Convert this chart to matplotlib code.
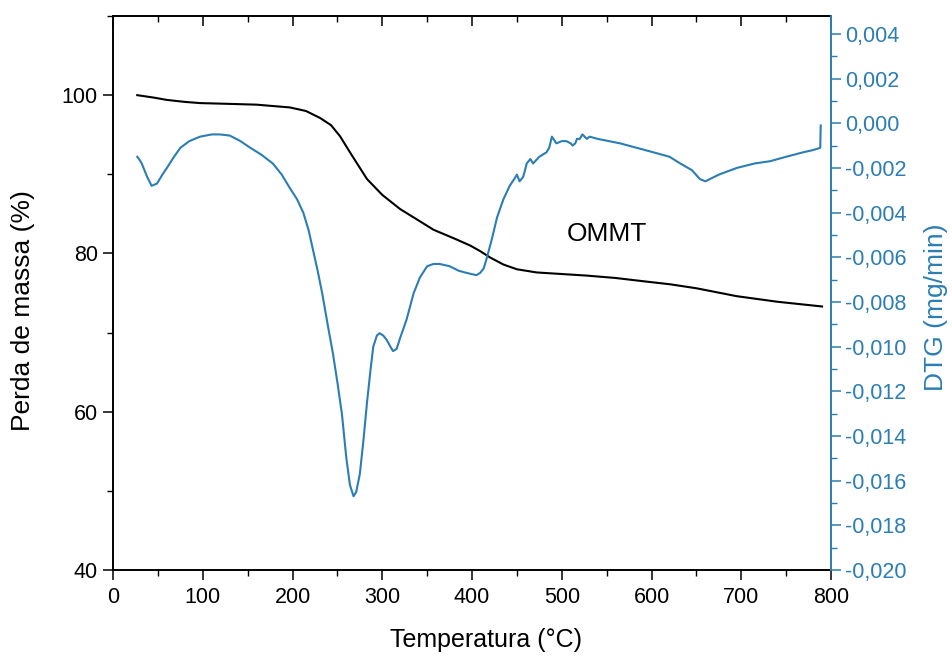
#!/usr/bin/env python3
"""TGA / DTG curves of OMMT: mass loss (left) and DTG (right) versus temperature."""

import matplotlib.pyplot as plt
from matplotlib.ticker import MultipleLocator, FuncFormatter

plt.rcParams["font.family"] = ["Liberation Sans", "DejaVu Sans"]

BLUE = "#2b7db3"

# TGA curve (black)
tga_temp = [27, 45, 60, 80, 97, 130, 160, 197, 215, 231, 243, 253, 265, 283,
            300, 320, 340, 357, 380, 398, 409, 420, 435, 450, 472, 500, 528,
            560, 590, 621, 650, 695, 740, 790]
tga_mass = [100.0, 99.7, 99.4, 99.15, 99.0, 98.9, 98.8, 98.45, 98.0, 97.1, 96.2,
            94.8, 92.6, 89.4, 87.4, 85.6, 84.2, 83.0, 81.9, 81.0, 80.3, 79.5,
            78.6, 78.0, 77.6, 77.4, 77.2, 76.9, 76.5, 76.1, 75.6, 74.6, 73.9,
            73.3]

# DTG curve (blue)
dtg_temp = [27, 29, 32, 35, 38, 43, 49, 55, 60, 68, 75, 85, 97, 110, 119, 130,
            142, 153, 165, 178, 188, 197, 205, 212, 218, 223, 228, 233, 240,
            245, 250, 255, 260, 264, 268, 271, 275, 279, 283, 287, 290, 294,
            297, 301, 305, 309, 312, 316, 320, 327, 335, 342, 350, 357, 364,
            375, 385, 394, 405, 409, 413, 416, 422, 428, 435, 442, 447, 450,
            453, 457, 461, 465, 468, 475, 483, 486, 489, 494, 500, 505, 510,
            512, 515, 517, 520, 523, 528, 531, 540, 565, 602, 620, 632, 645,
            654, 660, 665, 675, 695, 715, 732, 750, 769, 780, 788, 788.5]
dtg_val = [-0.0015, -0.0016, -0.0018, -0.0021, -0.0024, -0.0028, -0.0027,
           -0.0023, -0.0020, -0.0015, -0.0011, -0.0008, -0.0006, -0.0005,
           -0.0005, -0.00055, -0.0008, -0.0011, -0.0014, -0.0018, -0.0023,
           -0.0029, -0.0034, -0.0040, -0.0048, -0.0057, -0.0066, -0.0076,
           -0.0092, -0.0103, -0.0116, -0.0130, -0.0150, -0.0162, -0.0167,
           -0.0165, -0.0157, -0.0142, -0.0125, -0.0110, -0.0100, -0.0095,
           -0.0094, -0.0095, -0.0097, -0.0100, -0.0102, -0.0101, -0.0096,
           -0.0088, -0.0076, -0.0069, -0.0064, -0.0063, -0.0063, -0.0064,
           -0.0066, -0.0067, -0.0068, -0.0067, -0.0065, -0.0061, -0.0052,
           -0.0042, -0.0034, -0.0028, -0.0025, -0.0023, -0.0026, -0.0024,
           -0.0018, -0.0016, -0.0018, -0.0015, -0.0013, -0.0011, -0.0006,
           -0.0009, -0.0008, -0.0008, -0.0009, -0.0010, -0.0009, -0.0007,
           -0.0007, -0.0005, -0.0007, -0.0006, -0.0007, -0.0009, -0.0013,
           -0.0015, -0.0018, -0.0021, -0.0025, -0.0026, -0.0025, -0.0023,
           -0.0020, -0.0018, -0.0017, -0.0015, -0.0013, -0.0012, -0.0011,
           -0.0001]

X_TICKS = list(range(0, 900, 100))
LEFT_TICKS = [40, 60, 80, 100]
RIGHT_TICKS = [-0.020, -0.018, -0.016, -0.014, -0.012, -0.010, -0.008,
               -0.006, -0.004, -0.002, 0.000, 0.002, 0.004]


def comma_fmt(v, _):
    return f"{v:.3f}".replace(".", ",").replace("-0,000", "0,000")


def main() -> None:
    fig = plt.figure(figsize=(9.53, 6.57), dpi=100)
    ax = fig.add_axes([0.1186, 0.1324, 0.7534, 0.8432])
    ax2 = ax.twinx()

    ax.plot(tga_temp, tga_mass, color="black", linewidth=1.5)
    ax2.plot(dtg_temp, dtg_val, color=BLUE, linewidth=1.5)

    ax.set_xlim(0, 800)
    ax.set_ylim(40, 110)
    ax2.set_ylim(-0.020, 0.0048)

    ax.set_xticks(X_TICKS)
    ax.xaxis.set_minor_locator(MultipleLocator(50))
    ax.set_yticks(LEFT_TICKS)
    ax.yaxis.set_minor_locator(MultipleLocator(10))
    ax2.set_yticks(RIGHT_TICKS)
    ax2.yaxis.set_minor_locator(MultipleLocator(0.001))
    ax2.yaxis.set_major_formatter(FuncFormatter(comma_fmt))

    ax.tick_params(axis="both", which="major", labelsize=15.5, length=7, width=1.1, direction="out")
    ax.tick_params(axis="both", which="minor", length=4, width=1.0, direction="out")
    ax.tick_params(axis="x", top=True, which="both")
    ax.xaxis.set_tick_params(which="major", pad=5)
    ax.yaxis.set_tick_params(which="major", pad=4)

    ax2.tick_params(axis="y", which="major", labelsize=15.5, length=7, width=1.1,
                    colors=BLUE, labelcolor=BLUE, direction="out", pad=3)
    ax2.tick_params(axis="y", which="minor", length=4, width=1.0, colors=BLUE, direction="out")

    # top ticks point inwards, the rest outwards
    for t in ax.xaxis.get_major_ticks() + ax.xaxis.get_minor_ticks():
        t.tick2line.set_marker(3)

    for side in ("left", "bottom", "top"):
        ax.spines[side].set_linewidth(1.4)
    ax2.spines["right"].set_color(BLUE)
    ax2.spines["right"].set_linewidth(1.4)
    ax.spines["right"].set_visible(False)
    for side in ("left", "top", "bottom"):
        ax2.spines[side].set_visible(False)

    ax.set_xlabel("Temperatura (°C)", fontsize=18)
    ax.xaxis.set_label_coords(0.52, -0.105)
    ax.set_ylabel("Perda de massa (%)", fontsize=19)
    ax.yaxis.set_label_coords(-0.108, 0.4675)
    ax2.set_ylabel("DTG (mg/min)", fontsize=19, color=BLUE)
    ax2.yaxis.set_label_coords(1.129, 0.4747)

    ax.text(550, 82.4, "OMMT", fontsize=19, ha="center", va="center")

    fig.savefig("out.png", dpi=100)


if __name__ == "__main__":
    main()
